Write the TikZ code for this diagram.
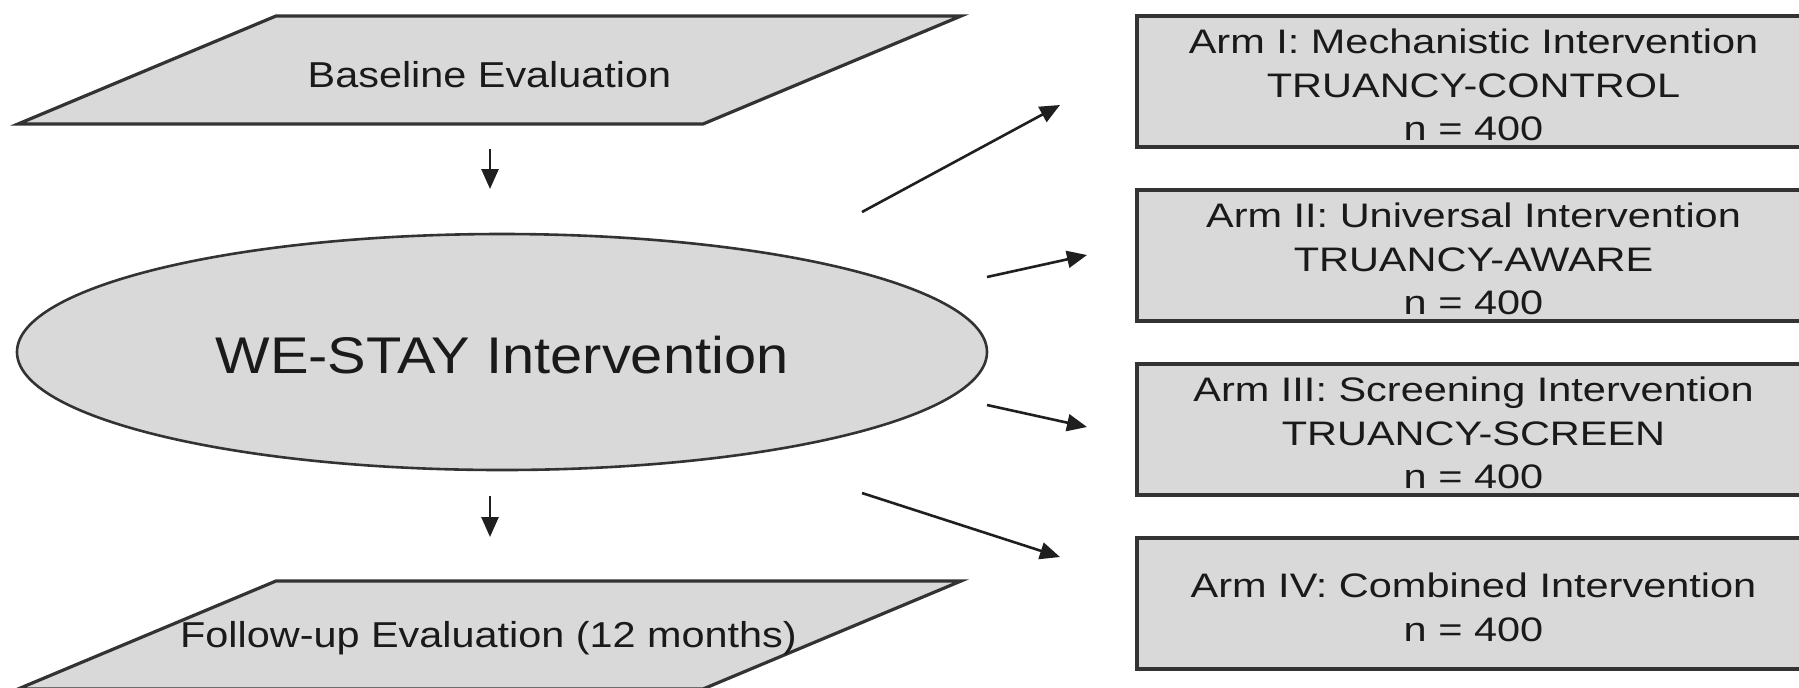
\documentclass[tikz,border=0pt]{standalone}
\usepackage{fontspec}
\setmainfont[FakeStretch=1.15]{Liberation Sans}
\newfontfamily\boxfont[FakeStretch=1.22]{Liberation Sans}
\newfontfamily\bigfont[FakeStretch=1.12]{Liberation Sans}
\usetikzlibrary{shapes.geometric,arrows.meta}
\definecolor{shapefill}{HTML}{D9D9D9}
\definecolor{edgecol}{HTML}{333333}
\definecolor{txtcol}{HTML}{1A1A1A}
\newcommand{\firststrut}{\rule{0pt}{16pt}}
\tikzset{
  paraline/.style={fill=shapefill, draw=edgecol, line width=1.6pt, line join=miter},
  paratext/.style={anchor=base, inner sep=0pt, text=txtcol, font=\fontsize{18}{21}\selectfont},
  oval/.style={ellipse, minimum width=485pt, minimum height=118pt, inner sep=0pt,
    fill=shapefill, draw=edgecol, line width=1.3pt, text=txtcol,
    font=\bigfont\fontsize{25.8}{30}\selectfont, text height=21pt, text depth=0pt},
  armbox/.style={rectangle, minimum width=336.5pt, minimum height=65.5pt, inner sep=0pt,
    fill=shapefill, draw=edgecol, line width=1.6pt, text=txtcol, align=center,
    font=\boxfont\fontsize{17}{21.75}\selectfont},
  arr/.style={-{Triangle[length=10pt,width=8.5pt]}, line width=1.3pt, draw=black!88},
}
\begin{document}
\begin{tikzpicture}[x=0.5pt,y=-0.5pt]
\useasboundingbox (0,0) rectangle (1799,687);
\fill[white] (0,0) rectangle (1799,687);
\clip (0,0) rectangle (1799,687);

% left column
\draw[paraline] (276,16) -- (961,16) -- (703,124) -- (18,124) -- cycle;
\node[paratext] (base) at (489.5,87) {Baseline Evaluation};
\node[oval] (we) at (502,352) {WE-STAY Intervention};
\draw[paraline] (276,581) -- (961,581) -- (703,689) -- (18,689) -- cycle;
\node[paratext] (follow) at (488.5,647) {Follow-up Evaluation (12 months)};

% right column
\node[armbox] (arm1) at (1473.5,81.5) {\firststrut Arm I: Mechanistic Intervention\\TRUANCY-CONTROL\\n = 400};
\node[armbox] (arm2) at (1473.5,255.5) {\firststrut Arm II: Universal Intervention\\TRUANCY-AWARE\\n = 400};
\node[armbox] (arm3) at (1473.5,429.5) {\firststrut Arm III: Screening Intervention\\TRUANCY-SCREEN\\n = 400};
\node[armbox] (arm4) at (1473.5,603.5) {\firststrut Arm IV: Combined Intervention\\n = 400};

% free arrow ends
\coordinate (v1s) at (490,149);
\coordinate (v1e) at (490,189);
\coordinate (v2s) at (490,496);
\coordinate (v2e) at (490,537);
\coordinate (a1s) at (862,212);
\coordinate (a1e) at (1060,105);
\coordinate (a2s) at (987,277);
\coordinate (a2e) at (1087,255);
\coordinate (a3s) at (987,405);
\coordinate (a3e) at (1087,427);
\coordinate (a4s) at (862,493);
\coordinate (a4e) at (1060,557);

\draw[arr] (v1s) -- (v1e);
\draw[arr] (v2s) -- (v2e);
\draw[arr] (a1s) -- (a1e);
\draw[arr] (a2s) -- (a2e);
\draw[arr] (a3s) -- (a3e);
\draw[arr] (a4s) -- (a4e);
\end{tikzpicture}
\end{document}
